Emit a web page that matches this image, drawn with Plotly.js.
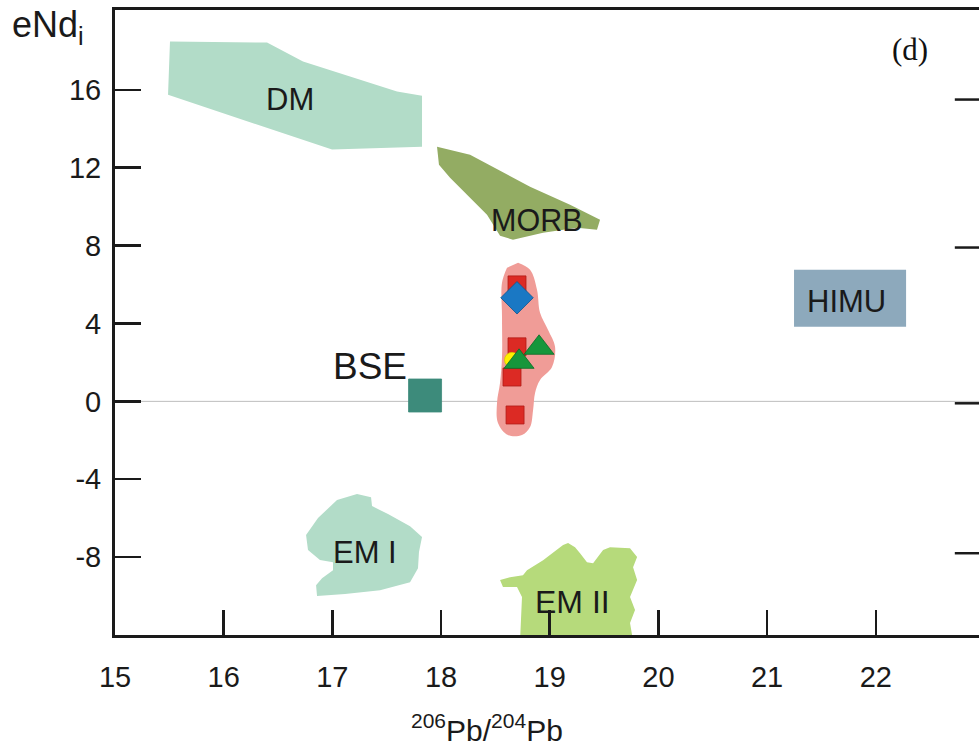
<!DOCTYPE html>
<html>
<head>
<meta charset="utf-8">
<script src="https://cdn.plot.ly/plotly-3.0.1.min.js"></script>
<style>html,body{margin:0;padding:0;background:#fff;}#chart{width:979px;height:748px;}</style>
</head>
<body>
<div id="chart"></div>
<script>
// Field outlines (206Pb/204Pb, eNd_i)
const dmX = [15.506, 16.399, 16.73, 17.595, 17.825, 17.825, 16.997, 15.488];
const dmY = [18.48, 18.43, 17.45, 15.91, 15.70, 13.08, 12.93, 15.75];

const morbX = [17.963, 18.267, 18.819, 19.187, 19.463, 19.435, 19.251, 18.939, 18.662, 18.543, 18.423, 18.083, 17.981];
const morbY = [13.08, 12.67, 11.02, 10.10, 9.33, 8.81, 8.92, 8.66, 8.30, 8.50, 9.58, 11.49, 12.15];

const himuX = [21.248, 22.279, 22.279, 21.248];
const himuY = [6.76, 6.76, 3.83, 3.83];

const em1X = [17.043, 17.227, 17.356, 17.365, 17.512, 17.715, 17.825, 17.797, 17.788, 17.715, 17.439, 17.117, 16.859, 16.850, 16.905, 17.006, 17.006, 16.886, 16.776, 16.758, 16.868];
const em1Y = [-5.07, -4.76, -4.92, -5.38, -5.79, -6.41, -6.97, -7.74, -8.57, -9.29, -9.70, -9.90, -10.00, -9.44, -9.08, -8.67, -8.26, -8.15, -7.64, -6.87, -5.99];

const em2X = [18.543, 18.635, 18.754, 18.791, 18.939, 19.123, 19.169, 19.233, 19.279, 19.343, 19.399, 19.491, 19.555, 19.739, 19.804, 19.767, 19.804, 19.739, 19.785, 19.739, 19.767, 18.727, 18.745, 18.699, 18.570];
const em2Y = [-9.18, -9.03, -8.93, -8.67, -8.16, -7.38, -7.28, -7.49, -7.80, -8.26, -8.31, -7.64, -7.49, -7.54, -8.00, -8.52, -9.18, -10.05, -10.72, -11.39, -12.3, -12.3, -10.05, -9.54, -9.54];

const blobX = [18.709, 18.819, 18.883, 18.911, 18.985, 19.049, 19.021, 18.911, 18.865, 18.847, 18.819, 18.745, 18.616, 18.524, 18.515, 18.543, 18.561, 18.561, 18.561, 18.607];
const blobY = [7.12, 6.76, 5.73, 4.55, 3.67, 2.80, 1.77, 1.10, 0.43, -0.44, -1.32, -1.73, -1.73, -1.11, -0.08, 0.95, 2.28, 4.34, 6.09, 6.86];

// Samples
const bseX = [17.853];
const bseY = [0.30];
const redX = [18.699, 18.699, 18.653, 18.681];
const redY = [5.98, 2.80, 1.25, -0.70];
const yellowX = [18.653];
const yellowY = [2.13];
const greenX = [18.902, 18.718];
const greenY = [2.75, 2.03];
const blueX = [18.699];
const blueY = [5.32];

// Labels
const labelText = ['DM', 'MORB', 'HIMU', 'BSE', 'EM I', 'EM II'];
const labelX = [16.61, 18.883, 21.727, 17.347, 17.30, 19.205];
const labelY = [15.50, 9.33, 5.11, 1.77, -7.74, -10.32];
const labelSize = [31, 30.5, 31, 37, 31, 32];

const xTicks = [15, 16, 17, 18, 19, 20, 21, 22];
const yTicks = [-8, -4, 0, 4, 8, 12, 16];
const rightTicks = [15.5, 7.9, -0.1, -7.8];

function field(x, y, color, spline) {
  return {
    x: x, y: y, type: 'scatter', mode: 'lines', fill: 'toself',
    fillcolor: color, line: {width: 0, color: color, shape: spline ? 'spline' : 'linear'},
    hoverinfo: 'skip', showlegend: false
  };
}
function pts(x, y, symbol, size, color, lineColor) {
  return {
    x: x, y: y, type: 'scatter', mode: 'markers', showlegend: false,
    marker: {symbol: symbol, size: size, color: color, line: {width: 0.8, color: lineColor}}
  };
}

const traces = [
  field(dmX, dmY, '#b2dcc8'),
  field(morbX, morbY, '#93ac63'),
  field(himuX, himuY, '#8da9bc'),
  field(em1X, em1Y, '#b2dcc8'),
  field(em2X, em2Y, '#b6da7b'),
  field(blobX, blobY, '#f09c97', true),
  pts(bseX, bseY, 'square', 33, '#3d8b7b', '#3d8b7b'),
  pts(redX, redY, 'square', 18, '#dc2a24', '#b01a15'),
  pts(yellowX, yellowY, 'circle', 15, '#fff000', '#d8c800'),
  pts(greenX, greenY, 'triangle-up', 26, '#16963b', '#0c6a26'),
  pts(blueX, blueY, 'diamond', 25, '#1a78c4', '#0d5590')
];

const FONT = 'Liberation Sans, Arial, sans-serif';
const annotations = labelText.map((t, i) => ({
  x: labelX[i], y: labelY[i], xref: 'x', yref: 'y', text: t, showarrow: false,
  font: {family: FONT, size: labelSize[i], color: '#1a1a1a'}
}));
annotations.push({
  x: 22.316, y: 18.06, xref: 'x', yref: 'y', text: '(d)', showarrow: false,
  font: {family: 'Liberation Serif, Times New Roman, serif', size: 31, color: '#111'}
});
annotations.push({
  x: -0.1215, y: 1.012, xref: 'paper', yref: 'paper', xanchor: 'left', yanchor: 'top',
  text: 'eNd<sub>i</sub>', showarrow: false,
  font: {family: FONT, size: 36, color: '#1a1a1a'}
});
annotations.push({
  x: 0.4306, y: -0.149, xref: 'paper', yref: 'paper', xanchor: 'center', yanchor: 'middle',
  text: '<sup>206</sup>Pb/<sup>204</sup>Pb', showarrow: false,
  font: {family: FONT, size: 30, color: '#1a1a1a'}
});

const shapes = [
  {type: 'line', xref: 'paper', yref: 'y', x0: 0, x1: 1, y0: 0, y1: 0,
   line: {color: '#bdbdbd', width: 1}, layer: 'below'}
];
rightTicks.forEach(v => shapes.push({
  type: 'line', xref: 'paper', yref: 'y', x0: 0.972, x1: 1, y0: v, y1: v,
  line: {color: '#1a1a1a', width: 2.5}
}));

const layout = {
  width: 979, height: 748,
  margin: {l: 115, r: 0, t: 10, b: 113},
  paper_bgcolor: '#ffffff', plot_bgcolor: '#ffffff',
  showlegend: false,
  xaxis: {
    range: [15, 22.95], tickvals: xTicks, ticktext: xTicks.map(String),
    showgrid: false, zeroline: false, showline: true, mirror: true,
    linecolor: '#1a1a1a', linewidth: 3,
    ticks: 'inside', ticklen: 25, tickwidth: 2.5, tickcolor: '#1a1a1a',
    ticklabelstandoff: 14,
    tickfont: {family: FONT, size: 29, color: '#1a1a1a'}
  },
  yaxis: {
    range: [-12.0, 20.1], tickvals: yTicks, ticktext: yTicks.map(String),
    showgrid: false, zeroline: false, showline: true, mirror: false,
    linecolor: '#1a1a1a', linewidth: 3,
    ticks: 'inside', ticklen: 26, tickwidth: 2.5, tickcolor: '#1a1a1a',
    ticklabelstandoff: 5,
    tickfont: {family: FONT, size: 29, color: '#1a1a1a'}
  },
  annotations: annotations,
  shapes: shapes
};

Plotly.newPlot('chart', traces, layout, {staticPlot: true, displayModeBar: false});
</script>
</body>
</html>
